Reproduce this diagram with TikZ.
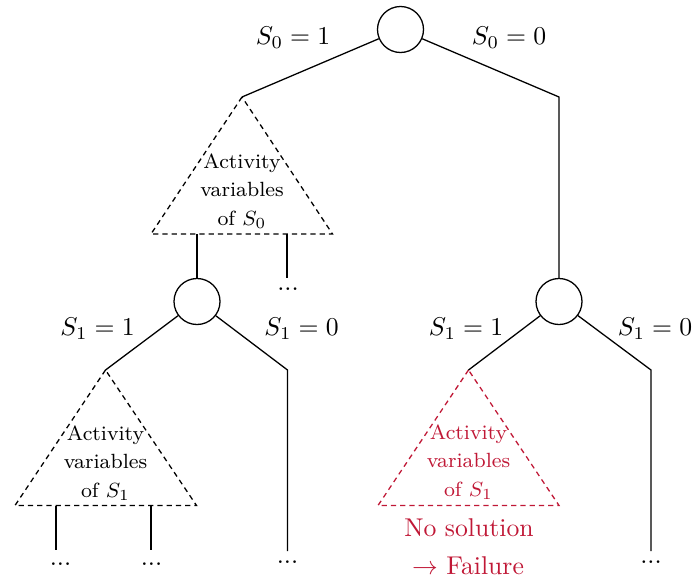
\documentclass[tikz,border=0pt]{standalone}
\usepackage{amsmath}
\definecolor{failred}{RGB}{192,24,54}
\begin{document}
\begin{tikzpicture}[x=0.389pt,y=-0.389pt,
  dec/.style={circle,draw,line width=0.5pt,minimum size=17.9pt,inner sep=0pt},
  conn/.style={line width=0.5pt},
  tri/.style={line width=0.5pt,dash pattern=on 2pt off 1.6pt},
  lbl/.style={font=\fontsize{10}{12}\selectfont,inner sep=0pt},
  tritxt/.style={font=\fontsize{8}{11}\selectfont,align=center,inner sep=0pt},
  more/.style={font=\fontsize{10}{12}\selectfont,inner sep=0pt}]
\useasboundingbox (0,0) rectangle (694,581);

% decision nodes
\node[dec] (c0) at (400.5,29.5) {};
\node[dec] (c1) at (197,301.5) {};
\node[dec] (c2) at (559,301.5) {};

% triangle 0
\coordinate (t0) at (242,97);
\coordinate (t0l) at (151,234);
\coordinate (t0r) at (332.5,234);
\draw[tri] (t0) -- (t0l) -- (t0r) -- cycle;
\node[tritxt] (t0txt) at (242,191) {Activity\\variables\\of $S_0$};

% triangle 1
\coordinate (t1) at (105.5,370);
\coordinate (t1l) at (15,505.5);
\coordinate (t1r) at (196.5,505.5);
\draw[tri] (t1) -- (t1l) -- (t1r) -- cycle;
\node[tritxt] (t1txt) at (105.5,463) {Activity\\variables\\of $S_1$};

% triangle 2 (red)
\coordinate (t2) at (468.5,370);
\coordinate (t2l) at (378,505.5);
\coordinate (t2r) at (559,505.5);
\draw[tri,failred] (t2) -- (t2l) -- (t2r) -- cycle;
\node[tritxt,text=failred] (t2txt) at (468.5,462) {Activity\\variables\\of $S_1$};

% bends and ends
\coordinate (k0) at (559,97);
\coordinate (k1) at (287.5,370);
\coordinate (e1) at (287.5,551);
\coordinate (k2) at (651,370);
\coordinate (e2) at (651,551);
\coordinate (a0) at (197,234);
\coordinate (b0) at (287,234);
\coordinate (b0e) at (287,278);
\coordinate (a1) at (56,505.5);
\coordinate (a1e) at (56,550);
\coordinate (b1) at (151,505.5);
\coordinate (b1e) at (151,550);

% connectors
\draw[conn] (c0) -- (t0);
\draw[conn] (c0) -- (k0) -- (c2);
\draw[conn] (a0) -- (c1);
\draw[conn] (b0) -- (b0e);
\draw[conn] (c1) -- (t1);
\draw[conn] (c1) -- (k1) -- (e1);
\draw[conn] (a1) -- (a1e);
\draw[conn] (b1) -- (b1e);
\draw[conn] (c2) -- (t2);
\draw[conn] (c2) -- (k2) -- (e2);

% continuation dots
\node[more] (d0) at (288,289.5) {...};
\node[more] (d1) at (287.5,562.5) {...};
\node[more] (d2) at (60.5,564) {...};
\node[more] (d3) at (151.5,564) {...};
\node[more] (d4) at (651,562.5) {...};

% branch labels
\node[lbl] (l0a) at (293,38) {$S_0 = 1$};
\node[lbl] (l0b) at (509,38) {$S_0 = 0$};
\node[lbl] (l1a) at (97.5,329) {$S_1 = 1$};
\node[lbl] (l1b) at (301.5,329) {$S_1 = 0$};
\node[lbl] (l2a) at (466,329) {$S_1 = 1$};
\node[lbl] (l2b) at (655,329) {$S_1 = 0$};

% failure note
\node[lbl,text=failred] (ns) at (469,528) {No solution};
\node[lbl,text=failred] (fl) at (468,566) {$\rightarrow$ Failure};
\end{tikzpicture}
\end{document}
